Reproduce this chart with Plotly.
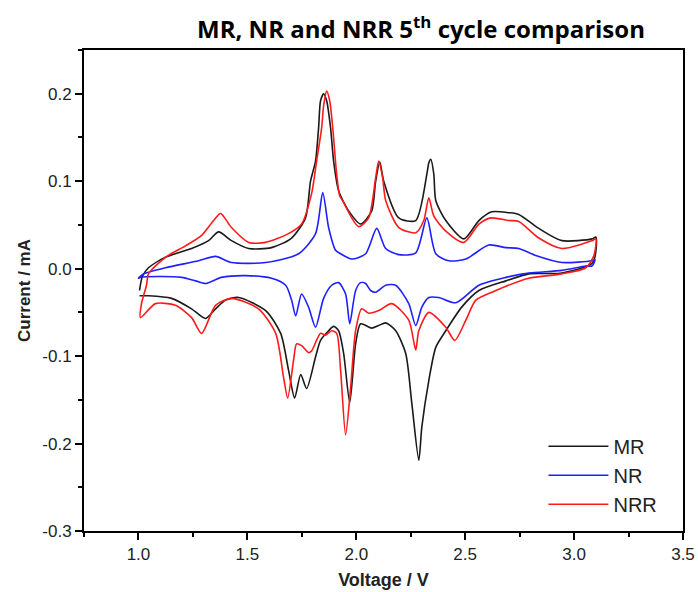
import plotly.graph_objects as go

# Cyclic voltammograms, 5th cycle: anodic sweep (1.0 -> 3.1 V) then cathodic sweep back.
# MR
mr_v_up = [1.005, 1.018, 1.046, 1.124, 1.244, 1.322, 1.368, 1.427, 1.506, 1.611, 1.703, 1.767,
           1.790, 1.813, 1.827, 1.836, 1.850, 1.864, 1.882, 1.896, 1.919, 1.965, 2.020, 2.071,
           2.089, 2.108, 2.126, 2.195, 2.273, 2.324, 2.333, 2.342, 2.356, 2.365, 2.411, 2.494,
           2.563, 2.622, 2.700, 2.746, 2.838, 2.944, 3.082, 3.100]
mr_i_up = [-0.025, -0.009, 0.001, 0.013, 0.023, 0.032, 0.042, 0.032, 0.023, 0.024, 0.035, 0.058,
           0.100, 0.123, 0.161, 0.192, 0.200, 0.192, 0.161, 0.123, 0.089, 0.066, 0.051, 0.066,
           0.100, 0.122, 0.100, 0.058, 0.055, 0.108, 0.121, 0.125, 0.108, 0.078, 0.055, 0.034,
           0.055, 0.065, 0.064, 0.062, 0.046, 0.032, 0.034, 0.036]
mr_v_down = [3.086, 2.944, 2.792, 2.687, 2.563, 2.484, 2.411, 2.365, 2.333, 2.301, 2.287, 2.255,
             2.227, 2.181, 2.135, 2.103, 2.071, 2.020, 1.997, 1.970, 1.942, 1.919, 1.896, 1.873,
             1.836, 1.813, 1.772, 1.745, 1.717, 1.689, 1.653, 1.584, 1.460, 1.400, 1.354, 1.308,
             1.244, 1.152, 1.046, 1.005]
mr_i_down = [0.007, -0.005, -0.006, -0.014, -0.025, -0.044, -0.071, -0.090, -0.128, -0.181, -0.219,
             -0.154, -0.097, -0.071, -0.062, -0.065, -0.068, -0.063, -0.086, -0.153, -0.097, -0.071,
             -0.066, -0.071, -0.082, -0.101, -0.137, -0.121, -0.148, -0.116, -0.074, -0.048, -0.033,
             -0.036, -0.046, -0.057, -0.046, -0.034, -0.031, -0.031]

# NR
nr_v_up = [1.000, 1.023, 1.124, 1.276, 1.354, 1.427, 1.584, 1.735, 1.813, 1.846, 1.873, 1.905,
           1.928, 1.979, 2.043, 2.094, 2.135, 2.195, 2.273, 2.324, 2.365, 2.425, 2.503, 2.608,
           2.687, 2.746, 2.824, 2.944, 3.082, 3.096]
nr_i_up = [-0.011, -0.006, 0.001, 0.009, 0.014, 0.007, 0.007, 0.017, 0.040, 0.087, 0.047, 0.021,
           0.017, 0.011, 0.017, 0.046, 0.023, 0.016, 0.018, 0.058, 0.017, 0.009, 0.011, 0.027,
           0.024, 0.023, 0.015, 0.007, 0.009, 0.010]
nr_v_down = [3.082, 3.054, 2.944, 2.792, 2.687, 2.563, 2.457, 2.379, 2.333, 2.301, 2.273, 2.241,
             2.181, 2.135, 2.089, 2.066, 2.043, 2.020, 1.997, 1.970, 1.951, 1.919, 1.887, 1.850,
             1.813, 1.781, 1.749, 1.722, 1.703, 1.676, 1.611, 1.492, 1.381, 1.308, 1.262, 1.198,
             1.092, 1.009, 1.000]
nr_i_down = [0.003, 0.003, -0.002, -0.005, -0.010, -0.019, -0.039, -0.033, -0.033, -0.044, -0.065,
             -0.040, -0.019, -0.019, -0.027, -0.025, -0.017, -0.016, -0.025, -0.063, -0.029, -0.016,
             -0.019, -0.034, -0.067, -0.044, -0.029, -0.054, -0.036, -0.019, -0.011, -0.008, -0.010,
             -0.017, -0.014, -0.010, -0.009, -0.010, -0.011]

# NRR
nrr_v_up = [1.009, 1.014, 1.037, 1.046, 1.124, 1.216, 1.290, 1.345, 1.377, 1.427, 1.506, 1.584,
            1.689, 1.749, 1.795, 1.818, 1.841, 1.850, 1.864, 1.878, 1.892, 1.910, 1.924, 1.937,
            1.979, 2.011, 2.057, 2.089, 2.103, 2.121, 2.135, 2.195, 2.273, 2.310, 2.333, 2.356,
            2.411, 2.494, 2.563, 2.618, 2.700, 2.746, 2.838, 2.944, 3.082, 3.100]
nrr_i_up = [-0.056, -0.040, -0.019, -0.006, 0.013, 0.026, 0.038, 0.055, 0.063, 0.047, 0.030, 0.030,
            0.040, 0.051, 0.086, 0.123, 0.161, 0.186, 0.203, 0.192, 0.161, 0.108, 0.083, 0.078,
            0.058, 0.048, 0.058, 0.104, 0.123, 0.104, 0.078, 0.047, 0.041, 0.055, 0.081, 0.060,
            0.043, 0.030, 0.051, 0.058, 0.055, 0.054, 0.035, 0.023, 0.032, 0.034]
nrr_v_down = [3.091, 3.054, 2.944, 2.792, 2.641, 2.549, 2.503, 2.452, 2.411, 2.333, 2.287, 2.273,
              2.241, 2.163, 2.103, 2.057, 2.025, 1.997, 1.974, 1.951, 1.928, 1.910, 1.887, 1.859,
              1.836, 1.795, 1.781, 1.749, 1.726, 1.712, 1.685, 1.666, 1.630, 1.551, 1.427, 1.354,
              1.290, 1.244, 1.170, 1.078, 1.009]
nrr_i_down = [0.015, 0.001, -0.006, -0.011, -0.025, -0.036, -0.059, -0.082, -0.067, -0.050, -0.071,
              -0.093, -0.059, -0.040, -0.048, -0.051, -0.046, -0.071, -0.136, -0.190, -0.116, -0.074,
              -0.071, -0.076, -0.074, -0.094, -0.096, -0.088, -0.086, -0.105, -0.148, -0.124, -0.074,
              -0.046, -0.034, -0.042, -0.074, -0.056, -0.042, -0.040, -0.056]

# Axis ticks
x_ticks = [1.0, 1.5, 2.0, 2.5, 3.0, 3.5]
y_ticks = [-0.3, -0.2, -0.1, 0.0, 0.1, 0.2]
y_tick_labels = ["-0.3", "-0.2", "-0.1", "0.0", "0.1", "0.2"]

series = [
    ("MR", mr_v_up + mr_v_down, mr_i_up + mr_i_down, "#1a1a1a"),
    ("NR", nr_v_up + nr_v_down, nr_i_up + nr_i_down, "#1f1fff"),
    ("NRR", nrr_v_up + nrr_v_down, nrr_i_up + nrr_i_down, "#ff1a1a"),
]

fig = go.Figure()
for name, v, i, color in series:
    fig.add_trace(go.Scatter(
        x=v, y=i, name=name, mode="lines",
        line=dict(color=color, width=1.6, shape="spline", smoothing=0.7),
    ))

axis_common = dict(
    showline=True, linecolor="black", linewidth=2, mirror=True,
    ticks="outside", ticklen=7, tickwidth=1.5, tickcolor="black",
    showgrid=False, zeroline=False, automargin=False,
    tickfont=dict(family="Liberation Sans, Arial, sans-serif", size=17, color="#222"),
)

fig.update_xaxes(
    range=[0.75, 3.5], tickvals=x_ticks, tickformat=".1f",
    minor=dict(dtick=0.25, tick0=0.75, ticks="outside", ticklen=4, tickcolor="black", tickwidth=1.5),
    title=dict(text="<b>Voltage / V</b>", standoff=10,
               font=dict(family="Liberation Sans, Arial, sans-serif", size=18, color="#222")),
    **axis_common,
)
fig.update_yaxes(
    range=[-0.3, 0.25], tickvals=y_ticks, ticktext=y_tick_labels,
    minor=dict(dtick=0.05, tick0=-0.3, ticks="outside", ticklen=4, tickcolor="black", tickwidth=1.5),
    title=dict(text="<b>Current / mA</b>", standoff=7,
               font=dict(family="Liberation Sans, Arial, sans-serif", size=17, color="#222")),
    **axis_common,
)

fig.update_layout(
    width=698, height=592,
    margin=dict(l=84, r=15, t=50, b=61),
    plot_bgcolor="white", paper_bgcolor="white",
    title=dict(text="<b>MR, NR and NRR 5<sup>th</sup> cycle comparison</b>",
               x=421 / 698, xanchor="center", xref="container",
               y=1 - 30 / 592, yanchor="middle", yref="container",
               font=dict(family="Open Sans, sans-serif", size=24, color="black")),
    legend=dict(x=0.767, y=0.015, xanchor="left", yanchor="bottom",
                bgcolor="rgba(0,0,0,0)", borderwidth=0, tracegroupgap=0, itemwidth=60,
                font=dict(family="Liberation Sans, Arial, sans-serif", size=20, color="#222")),
    showlegend=True,
)

fig.write_html("out.html")
